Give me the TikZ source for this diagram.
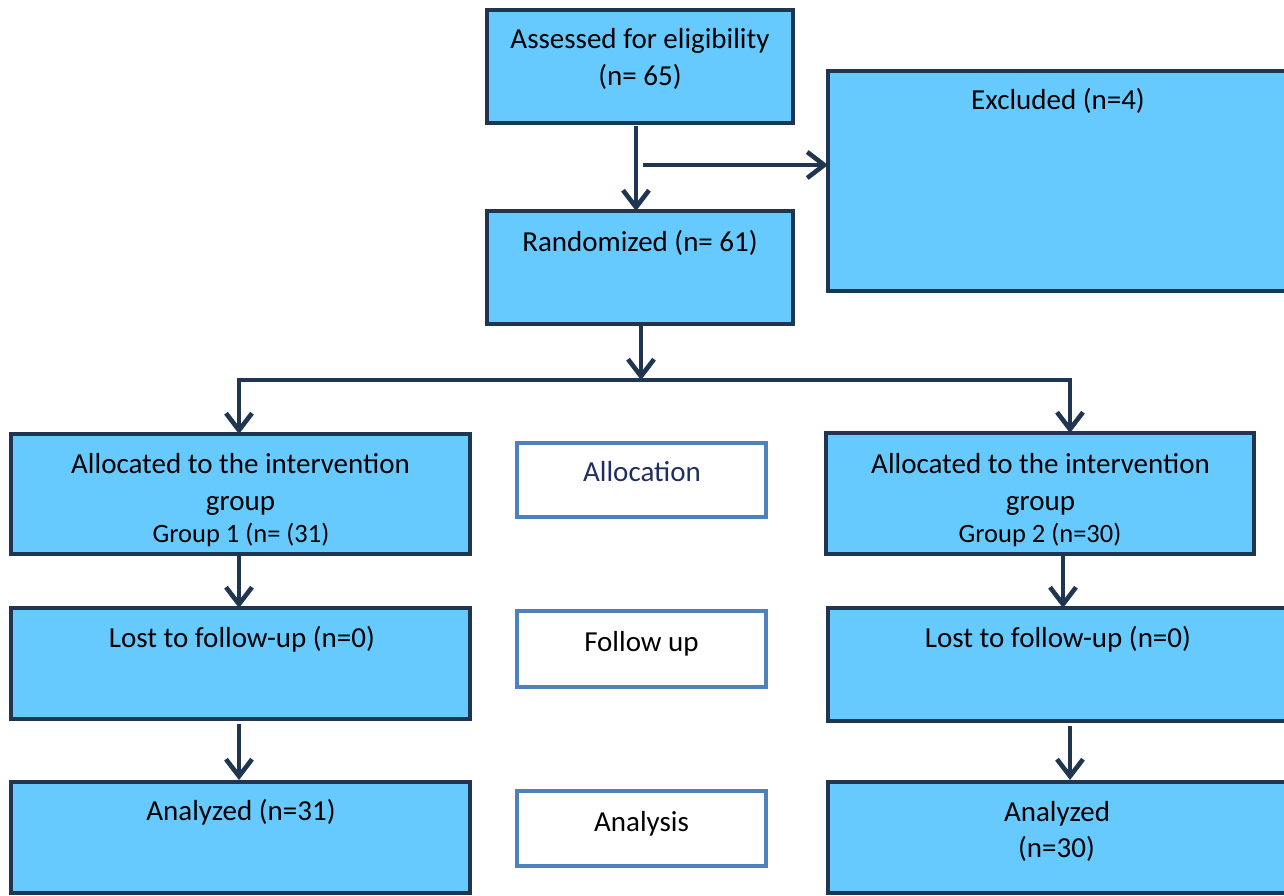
\documentclass[tikz,border=0pt]{standalone}
\usepackage{fontspec}
\setmainfont{Carlito}
\usetikzlibrary{arrows.meta}
\definecolor{boxfill}{HTML}{66CAFF}
\definecolor{navy}{HTML}{1F3550}
\definecolor{labelblue}{HTML}{4F81BD}
\definecolor{labeltext}{HTML}{1F2F60}
\tikzset{
  flowbox/.style={draw=navy, line width=4.8pt, fill=boxfill, rectangle, inner sep=0pt, outer sep=0pt},
  stagebox/.style={draw=labelblue, line width=4pt, fill=white, rectangle, inner sep=0pt, outer sep=0pt},
  txt/.style={anchor=base, inner sep=0pt, font=\fontsize{29}{36}\selectfont},
  smalltxt/.style={anchor=base, inner sep=0pt, font=\fontsize{26.5}{32}\selectfont},
  conn/.style={draw=navy, line width=4.6pt},
  arr/.style={conn, -{Straight Barb[length=17pt, width=26pt, line width=4.6pt]}},
}
\begin{document}
\begin{tikzpicture}[x=1pt, y=-1pt]
\useasboundingbox (0,0) rectangle (1284,895);
\clip (0,0) rectangle (1284,895);
% boxes
\node[flowbox, minimum width=306pt, minimum height=113pt] (as) at (640,66.5) {};
\node[flowbox, minimum width=460pt, minimum height=220pt] (ex) at (1058,181) {};
\node[flowbox, minimum width=306pt, minimum height=113pt] (ra) at (640,267.5) {};
\node[flowbox, minimum width=459pt, minimum height=120pt] (aL) at (240.5,494) {};
\node[stagebox, minimum width=249pt, minimum height=74pt] (sA) at (641,479.5) {};
\node[flowbox, minimum width=428pt, minimum height=121pt] (aR) at (1040,493.5) {};
\node[flowbox, minimum width=459pt, minimum height=111pt] (lL) at (240.5,663.5) {};
\node[stagebox, minimum width=249pt, minimum height=76pt] (sF) at (641,648.5) {};
\node[flowbox, minimum width=460pt, minimum height=113pt] (lR) at (1058,664.5) {};
\node[flowbox, minimum width=459pt, minimum height=111pt] (nL) at (240.5,837.5) {};
\node[stagebox, minimum width=249pt, minimum height=75pt] (sN) at (641,828) {};
\node[flowbox, minimum width=460pt, minimum height=111pt] (nR) at (1058,837.5) {};
% texts
\node[txt] (as1) at (640,48) {Assessed for eligibility};
\node[txt] (as2) at (640,85) {(n= 65)};
\node[txt] (ex1) at (1058,109) {Excluded (n=4)};
\node[txt] (ra1) at (640,251) {Randomized (n= 61)};
\node[txt] (aL1) at (240.5,473) {Allocated to the intervention};
\node[txt] (aL2) at (240.5,510) {group};
\node[smalltxt] (aL3) at (241,542) {Group 1 (n= (31)};
\node[txt, text=labeltext] (sA1) at (642,481) {Allocation};
\node[txt] (aR1) at (1040.5,473) {Allocated to the intervention};
\node[txt] (aR2) at (1040.5,510) {group};
\node[smalltxt] (aR3) at (1040,542) {Group 2 (n=30)};
\node[txt] (lL1) at (242,647) {Lost to follow-up (n=0)};
\node[txt] (sF1) at (641.5,651) {Follow up};
\node[txt] (lR1) at (1058,647) {Lost to follow-up (n=0)};
\node[txt] (nL1) at (241,820) {Analyzed (n=31)};
\node[txt] (sN1) at (641.5,831) {Analysis};
\node[txt] (nR1) at (1057,821) {Analyzed};
\node[txt] (nR2) at (1056.5,857) {(n=30)};
% connectors
\coordinate (h0) at (643,165);
\coordinate (br) at (641,380);
\coordinate (bl) at (239,380);
\coordinate (bR) at (1070,380);
\coordinate (cR) at (1063,380);
\draw[arr, shorten <=3pt] ([xshift=-4pt]as.south) -- ([xshift=-4pt]ra.north);
\draw[arr] (h0) -- (h0 -| ex.west);
\draw[arr, shorten <=2pt] (ra.south -| br) -- (br);
\draw[conn] ([xshift=-2.3pt]bl) -- ([xshift=2.3pt]bR);
\draw[arr] ([yshift=-2.3pt]bl) -- (bl |- aL.north);
\draw[arr] ([yshift=-2.3pt]bR) -- (bR |- aR.north);
\draw[arr] (aL.south -| bl) -- (lL.north -| bl);
\draw[arr] (aR.south -| cR) -- (lR.north -| cR);
\draw[arr, shorten <=5pt, shorten >=2pt] (lL.south -| bl) -- (nL.north -| bl);
\draw[arr, shorten <=5pt, shorten >=2pt] (lR.south -| bR) -- (nR.north -| bR);
\end{tikzpicture}
\end{document}
